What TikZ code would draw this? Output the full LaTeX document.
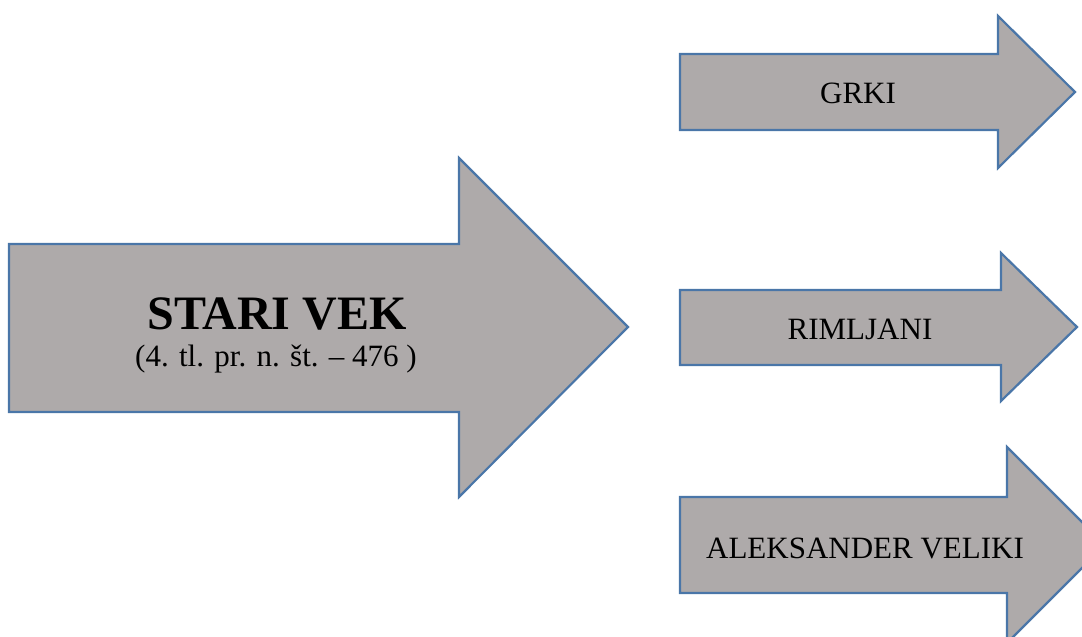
\documentclass[tikz,border=0pt]{standalone}
\usepackage{fontspec}
\setmainfont{Liberation Serif}
\definecolor{arrowfill}{RGB}{174,170,170}
\definecolor{arrowline}{RGB}{74,118,168}
\tikzset{
  bigarrow/.style={fill=arrowfill, draw=arrowline, line width=2.2pt, line join=miter},
  lbl/.style={inner sep=0pt, font=\fontsize{31}{36}\selectfont, text=black}
}
\begin{document}
\begin{tikzpicture}[x=1pt,y=-1pt]
\useasboundingbox (0,0) rectangle (1082,637);
% main arrow
\draw[bigarrow] (9,244) -- (459,244) -- (459,158) -- (628,327) -- (459,497) -- (459,412) -- (9,412) -- cycle;
\node[lbl, anchor=base, font=\fontsize{48}{54}\selectfont\bfseries] (stari) at (277,329) {STARI VEK};
\node[lbl, anchor=base] (dates) at (276,366) {(4. tl. pr. n. št. – 476 )};
% GRKI
\draw[bigarrow] (680,54) -- (998,54) -- (998,16) -- (1075,92) -- (998,168) -- (998,130) -- (680,130) -- cycle;
\node[lbl] (grki) at (858,93) {GRKI};
% RIMLJANI
\draw[bigarrow] (680,290) -- (1001,290) -- (1001,253) -- (1077,327) -- (1001,401) -- (1001,365) -- (680,365) -- cycle;
\node[lbl] (rim) at (860,329) {RIMLJANI};
% ALEKSANDER VELIKI
\draw[bigarrow] (680,497) -- (1007,497) -- (1007,447) -- (1105,545) -- (1007,643) -- (1007,593) -- (680,593) -- cycle;
\node[lbl] (alek) at (865,548) {ALEKSANDER VELIKI};
\end{tikzpicture}
\end{document}
